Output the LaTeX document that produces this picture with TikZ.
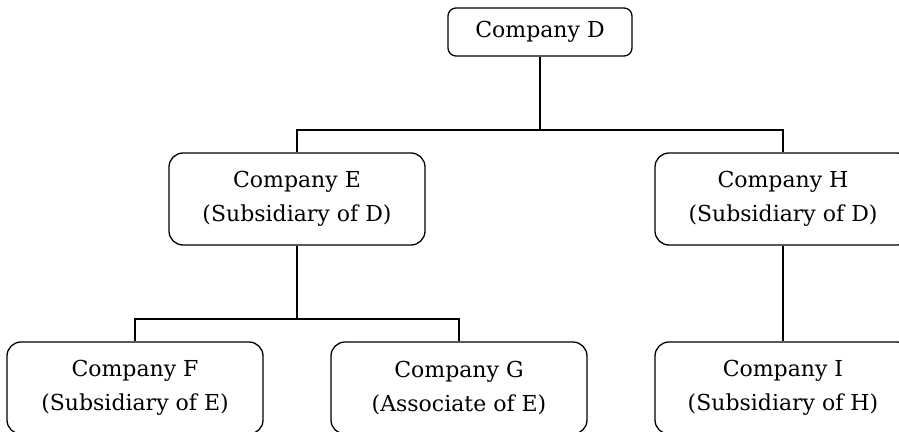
\documentclass[tikz,border=0pt]{standalone}
\usepackage{fontspec}
\setmainfont{DejaVu Serif}
\begin{document}
\begin{tikzpicture}[x=1pt,y=-1pt,
  box/.style={draw, line width=1.3pt, rounded corners=14pt, align=center,
    minimum width=256pt, minimum height=92pt, inner sep=0pt,
    font=\fontsize{22}{34}\selectfont},
  topbox/.style={box, rounded corners=8pt, minimum width=184pt, minimum height=48pt},
  link/.style={line width=1.3pt}]
\useasboundingbox (0,0) rectangle (899,431);
\clip (0,0) rectangle (899,431);
\node[topbox] (D) at (540,32) {Company D};
\node[box] (E) at (297,199) {Company E\\(Subsidiary of D)};
\node[box] (H) at (783,199) {Company H\\(Subsidiary of D)};
\node[box] (F) at (135,388) {Company F\\(Subsidiary of E)};
\node[box] (G) at (459,388) {Company G\\(Associate of E)};
\node[box] (I) at (783,388) {Company I\\(Subsidiary of H)};
\coordinate (j1) at (540,130);
\coordinate (j2) at (297,319);
\draw[link] (D.south) -- (j1);
\draw[link] (E.north) |- (j1) -| (H.north);
\draw[link] (E.south) -- (j2);
\draw[link] (F.north) |- (j2) -| (G.north);
\draw[link] (H.south) -- (I.north);
\end{tikzpicture}
\end{document}
